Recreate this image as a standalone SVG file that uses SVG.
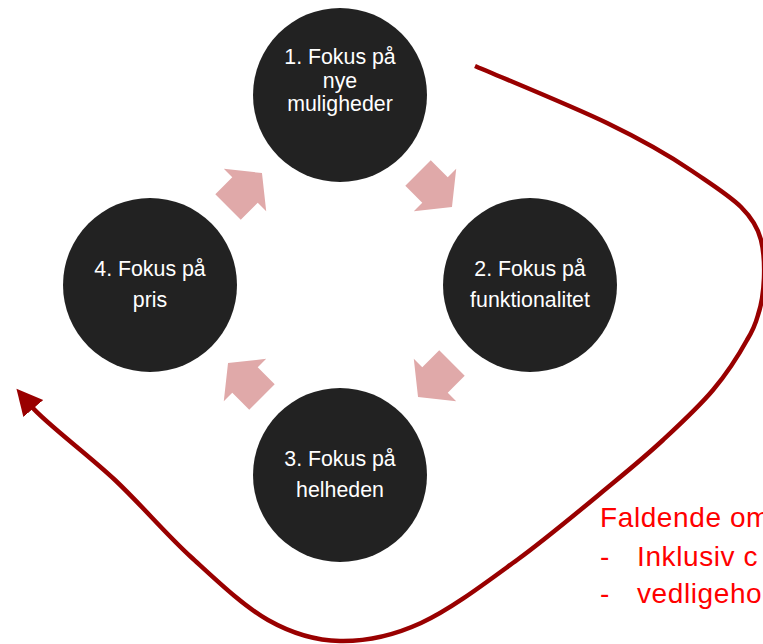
<svg xmlns="http://www.w3.org/2000/svg" width="763" height="644" viewBox="0 0 763 644">
  <style>
    .node circle { fill: #222222; }
    .node text { fill: #ffffff; font-family: "Liberation Sans", Arial, sans-serif; font-size: 21.33px; text-anchor: middle; }
    .flow { fill: #E0A9A9; }
    .loop { fill: none; stroke: #990000; stroke-width: 4.5; }
    .note { fill: #FF0000; font-family: "Liberation Sans", Arial, sans-serif; font-size: 28px; letter-spacing: 0.6px; }
  </style>
  <defs>
    <path id="blockArrow" d="M-24,-18 L0,-18 L0,-30 L24,0 L0,30 L0,18 L-24,18 Z"/>
    <marker id="loopHead" markerUnits="userSpaceOnUse" markerWidth="28" markerHeight="28" refX="2" refY="13" orient="auto">
      <path d="M0,0 L26,13 L0,26 Z" fill="#990000"/>
    </marker>
  </defs>
  <rect width="763" height="644" fill="#ffffff"/>

  <g id="connectors">
    <use href="#blockArrow" class="flow" transform="translate(435,190) rotate(45)"/>
    <use href="#blockArrow" class="flow" transform="translate(435,380) rotate(135)"/>
    <use href="#blockArrow" class="flow" transform="translate(245,380) rotate(225)"/>
    <use href="#blockArrow" class="flow" transform="translate(245,190) rotate(315)"/>
    <path class="loop" marker-end="url(#loopHead)" d="M475,66 C497,75.5 571.2,105.7 607,123 C642.8,140.3 670,156 692,171 C714,186 730,196 741,207 C752,218 758,228 761,240 C764,252 764.5,265 764,278 C763.5,291 762,303 758,315 C755,326 752,332 747,340 C739.2,354.2 727,373.3 713,390 C699,406.7 679.7,424.5 663,440 C646.3,455.5 637.3,463 613,483 C588.7,503 549,536.7 517,560 C485,583.3 450.5,609.5 421,623 C391.5,636.5 365.5,641.5 340,641 C314.5,640.5 292.8,634 268,620 C243.2,606 216.5,580.3 191,557 C165.5,533.7 141.5,505 115,480 C88.5,455 45.6,423 32,407"/>
  </g>

  <g id="node1" class="node">
    <circle cx="340" cy="95" r="87"/>
    <text x="340" y="64">1. Fokus på</text>
    <text x="340" y="87.5">nye</text>
    <text x="340" y="111">muligheder</text>
  </g>
  <g id="node2" class="node">
    <circle cx="530" cy="285" r="87"/>
    <text x="530" y="276">2. Fokus på</text>
    <text x="530" y="307">funktionalitet</text>
  </g>
  <g id="node3" class="node">
    <circle cx="340" cy="475" r="87"/>
    <text x="340" y="466">3. Fokus på</text>
    <text x="340" y="497">helheden</text>
  </g>
  <g id="node4" class="node">
    <circle cx="150" cy="285" r="87"/>
    <text x="150" y="276">4. Fokus på</text>
    <text x="150" y="307">pris</text>
  </g>

  <g id="note">
    <text class="note" x="600" y="527">Faldende om</text>
    <text class="note" x="600" y="566">-</text>
    <text class="note" x="637" y="566">Inklusiv c</text>
    <text class="note" x="600" y="603">-</text>
    <text class="note" x="637" y="603">vedligeho</text>
  </g>
</svg>
